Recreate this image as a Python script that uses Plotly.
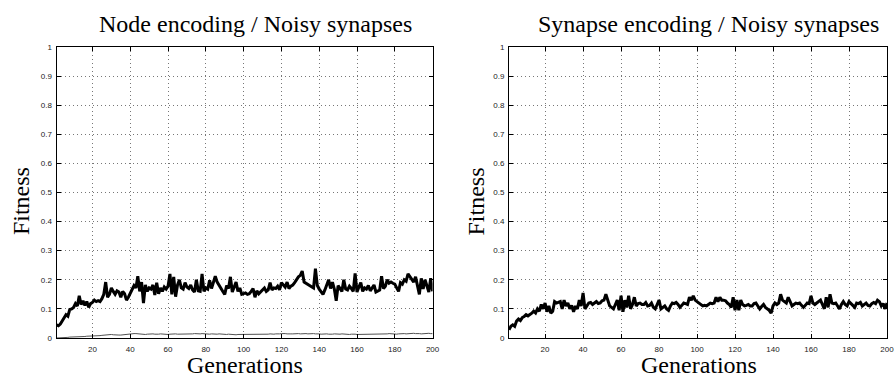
import plotly.graph_objects as go

generations = list(range(1, 201))

node_best = [
    0.045, 0.042, 0.048, 0.060, 0.072, 0.080, 0.075, 0.098, 0.100, 0.105,
    0.118, 0.110, 0.145, 0.115, 0.128, 0.112, 0.125, 0.105, 0.118, 0.122,
    0.130, 0.125, 0.128, 0.125, 0.135, 0.150, 0.192, 0.140, 0.150, 0.172,
    0.160, 0.150, 0.162, 0.158, 0.140, 0.160, 0.152, 0.130, 0.140, 0.155,
    0.168, 0.180, 0.172, 0.212, 0.160, 0.192, 0.120, 0.182, 0.160, 0.172,
    0.168, 0.182, 0.148, 0.190, 0.152, 0.172, 0.160, 0.175, 0.168, 0.178,
    0.220, 0.150, 0.210, 0.142, 0.182, 0.200, 0.172, 0.168, 0.190, 0.175,
    0.170, 0.182, 0.165, 0.158, 0.200, 0.162, 0.160, 0.220, 0.160, 0.172,
    0.168, 0.198, 0.170, 0.188, 0.212, 0.192, 0.180, 0.168, 0.160, 0.150,
    0.180, 0.170, 0.210, 0.158, 0.175, 0.192, 0.160, 0.172, 0.150, 0.152,
    0.155, 0.150, 0.152, 0.160, 0.170, 0.140, 0.162, 0.152, 0.158, 0.165,
    0.172, 0.160, 0.165, 0.190, 0.165, 0.172, 0.170, 0.178, 0.165, 0.190,
    0.182, 0.175, 0.192, 0.170, 0.178, 0.182, 0.190, 0.200, 0.210, 0.215,
    0.230, 0.192, 0.188, 0.185, 0.182, 0.178, 0.172, 0.238, 0.180, 0.168,
    0.160, 0.150, 0.165, 0.180, 0.200, 0.170, 0.192, 0.168, 0.128, 0.180,
    0.172, 0.160, 0.200, 0.168, 0.165, 0.178, 0.170, 0.160, 0.222, 0.158,
    0.175, 0.190, 0.160, 0.172, 0.168, 0.180, 0.162, 0.170, 0.182, 0.158,
    0.162, 0.165, 0.212, 0.170, 0.178, 0.200, 0.188, 0.192, 0.188, 0.185,
    0.172, 0.160, 0.190, 0.185, 0.200, 0.195, 0.220, 0.212, 0.200, 0.192,
    0.210, 0.185, 0.150, 0.205, 0.168, 0.200, 0.182, 0.158, 0.205, 0.160,
]

node_mean = [
    0.000, 0.000, 0.001, 0.001, 0.002, 0.002, 0.002, 0.003, 0.003, 0.003,
    0.004, 0.004, 0.004, 0.005, 0.005, 0.005, 0.006, 0.006, 0.007, 0.007,
    0.007, 0.008, 0.008, 0.008, 0.009, 0.010, 0.011, 0.012, 0.011, 0.012,
    0.011, 0.010, 0.011, 0.010, 0.010, 0.011, 0.010, 0.011, 0.012, 0.013,
    0.014, 0.015, 0.015, 0.014, 0.013, 0.014, 0.013, 0.012, 0.013, 0.014,
    0.013, 0.014, 0.013, 0.012, 0.013, 0.014, 0.013, 0.014, 0.013, 0.012,
    0.013, 0.014, 0.013, 0.014, 0.013, 0.013, 0.012, 0.013, 0.014, 0.013,
    0.014, 0.013, 0.014, 0.015, 0.014, 0.013, 0.014, 0.015, 0.014, 0.013,
    0.014, 0.013, 0.014, 0.013, 0.012, 0.013, 0.014, 0.013, 0.012, 0.013,
    0.012, 0.013, 0.012, 0.013, 0.012, 0.011, 0.012, 0.012, 0.011, 0.012,
    0.012, 0.011, 0.012, 0.013, 0.012, 0.012, 0.013, 0.012, 0.013, 0.012,
    0.013, 0.012, 0.013, 0.014, 0.013, 0.013, 0.014, 0.013, 0.014, 0.015,
    0.016, 0.015, 0.014, 0.015, 0.014, 0.014, 0.015, 0.014, 0.015, 0.014,
    0.015, 0.014, 0.015, 0.014, 0.015, 0.014, 0.015, 0.014, 0.015, 0.014,
    0.013, 0.014, 0.013, 0.014, 0.013, 0.012, 0.013, 0.014, 0.013, 0.012,
    0.013, 0.014, 0.013, 0.012, 0.013, 0.012, 0.013, 0.014, 0.013, 0.012,
    0.012, 0.013, 0.012, 0.013, 0.012, 0.013, 0.012, 0.013, 0.012, 0.013,
    0.013, 0.014, 0.013, 0.014, 0.013, 0.014, 0.015, 0.014, 0.013, 0.014,
    0.013, 0.014, 0.015, 0.014, 0.015, 0.014, 0.015, 0.014, 0.015, 0.016,
    0.015, 0.016, 0.015, 0.014, 0.015, 0.016, 0.015, 0.016, 0.015, 0.015,
]

synapse_best = [
    0.028, 0.040, 0.045, 0.040, 0.058, 0.065, 0.060, 0.070, 0.074, 0.080,
    0.076, 0.080, 0.085, 0.092, 0.086, 0.100, 0.092, 0.115, 0.100, 0.120,
    0.090, 0.110, 0.085, 0.092, 0.125, 0.120, 0.122, 0.125, 0.100, 0.130,
    0.110, 0.120, 0.100, 0.112, 0.090, 0.110, 0.100, 0.130, 0.110, 0.155,
    0.100, 0.110, 0.120, 0.122, 0.115, 0.120, 0.125, 0.118, 0.120, 0.128,
    0.130, 0.150, 0.125, 0.110, 0.105, 0.100, 0.115, 0.130, 0.095, 0.145,
    0.090, 0.130, 0.105, 0.145, 0.100, 0.115, 0.140, 0.110, 0.118, 0.120,
    0.115, 0.115, 0.122, 0.110, 0.112, 0.120, 0.105, 0.100, 0.115, 0.130,
    0.100, 0.105, 0.110, 0.100, 0.095, 0.110, 0.120, 0.118, 0.122, 0.115,
    0.105, 0.112, 0.120, 0.118, 0.115, 0.140, 0.130, 0.145, 0.130, 0.125,
    0.120, 0.115, 0.110, 0.112, 0.110, 0.115, 0.120, 0.118, 0.120, 0.140,
    0.125, 0.140, 0.130, 0.130, 0.128, 0.120, 0.115, 0.105, 0.140, 0.095,
    0.130, 0.095, 0.130, 0.115, 0.110, 0.112, 0.115, 0.110, 0.110, 0.118,
    0.120, 0.110, 0.100, 0.108, 0.115, 0.105, 0.100, 0.095, 0.085, 0.110,
    0.120, 0.115, 0.120, 0.150, 0.130, 0.125, 0.120, 0.140, 0.125, 0.110,
    0.115, 0.120, 0.118, 0.120, 0.112, 0.105, 0.112, 0.120, 0.118, 0.145,
    0.120, 0.115, 0.120, 0.125, 0.130, 0.115, 0.100, 0.140, 0.105, 0.150,
    0.120, 0.118, 0.120, 0.110, 0.100, 0.115, 0.125, 0.115, 0.110, 0.125,
    0.120, 0.112, 0.105, 0.120, 0.118, 0.122, 0.110, 0.115, 0.120, 0.112,
    0.110, 0.118, 0.122, 0.118, 0.130, 0.125, 0.110, 0.118, 0.100, 0.120,
]

x_tickvals = [20, 40, 60, 80, 100, 120, 140, 160, 180, 200]
y_tickvals = [0, 0.1, 0.2, 0.3, 0.4, 0.5, 0.6, 0.7, 0.8, 0.9, 1]
y_ticktext = ["0", "0.1", "0.2", "0.3", "0.4", "0.5", "0.6", "0.7", "0.8", "0.9", "1"]

titles = ["Node encoding / Noisy synapses", "Synapse encoding / Noisy synapses"]

W, H = 895, 383
fig = go.Figure()

fig.add_trace(go.Scatter(x=generations, y=node_mean, mode="lines",
                         line=dict(color="#505050", width=1), xaxis="x", yaxis="y",
                         showlegend=False))
fig.add_trace(go.Scatter(x=generations, y=node_best, mode="lines",
                         line=dict(color="black", width=3), xaxis="x", yaxis="y",
                         showlegend=False))
fig.add_trace(go.Scatter(x=generations, y=synapse_best, mode="lines",
                         line=dict(color="black", width=3), xaxis="x2", yaxis="y2",
                         showlegend=False))

tickfont = dict(family="Liberation Sans", size=8, color="#222")
gridstyle = dict(showgrid=True, gridcolor="#777777", griddash="1px,3px", gridwidth=1)
xcommon = dict(range=[1, 200], tickvals=x_tickvals, ticks="inside", ticklen=4,
               tickcolor="black", showline=True, linecolor="black", linewidth=1,
               mirror="ticks", zeroline=False, tickfont=tickfont,
               ticklabelstandoff=3, **gridstyle)
ycommon = dict(range=[0, 1], tickvals=y_tickvals, ticktext=y_ticktext, ticks="inside",
               ticklen=4, tickcolor="black", showline=True, linecolor="black",
               linewidth=1, mirror="ticks", zeroline=False, tickfont=tickfont,
               ticklabelstandoff=2, **gridstyle)

ybot = 1 - 342 / H
ytop = 1 - 44 / H
fig.update_layout(
    width=W, height=H,
    margin=dict(l=0, r=0, t=0, b=0),
    paper_bgcolor="white", plot_bgcolor="white",
    xaxis=dict(domain=[57 / W, 436 / W], anchor="y", **xcommon),
    yaxis=dict(domain=[ybot, ytop], anchor="x", **ycommon),
    xaxis2=dict(domain=[513 / W, 894 / W], anchor="y2", **xcommon),
    yaxis2=dict(domain=[ybot, ytop], anchor="x2", **ycommon),
)

serif = "Liberation Serif"
ann = []
for cx_title, cx_label, cx_y, t in [(258, 247, 21, titles[0]), (714, 705, 480, titles[1])]:
    ann.append(dict(text=t, x=cx_title / W, y=1 - 20 / H, xref="paper", yref="paper",
                    xanchor="center", yanchor="middle", showarrow=False,
                    font=dict(family=serif, size=24, color="black")))
    ann.append(dict(text="Generations", x=cx_label / W, y=1 - 370 / H, xref="paper",
                    yref="paper", xanchor="center", yanchor="middle", showarrow=False,
                    font=dict(family=serif, size=24, color="black")))
    ann.append(dict(text="Fitness", x=cx_y / W, y=1 - 202 / H, xref="paper",
                    yref="paper", xanchor="center", yanchor="middle", showarrow=False,
                    textangle=-90, font=dict(family=serif, size=24, color="black")))
fig.update_layout(annotations=ann)

fig.write_html("out.html")
